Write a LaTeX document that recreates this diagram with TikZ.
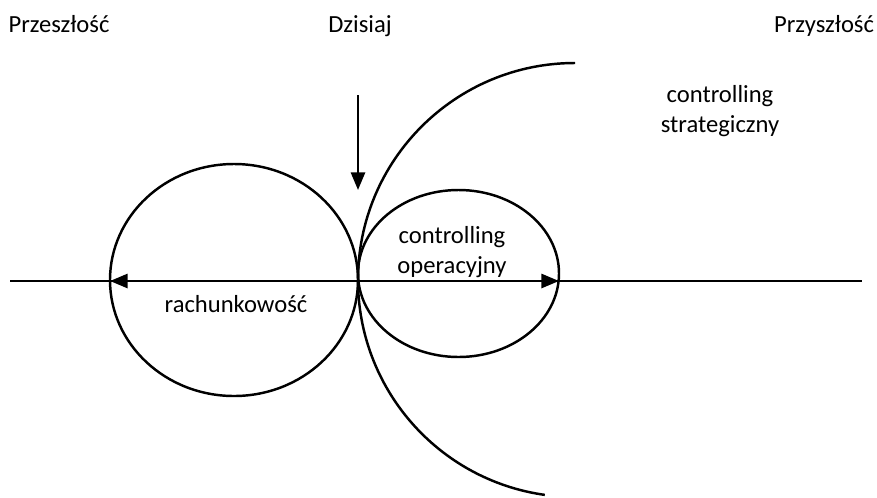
\documentclass[tikz,border=0pt]{standalone}
\usepackage{fontspec}
\setmainfont{Carlito}
\usetikzlibrary{arrows.meta}

\begin{document}
\begin{tikzpicture}[x=0.03cm,y=-0.03cm,line width=2.1pt,
    every node/.style={font=\fontsize{21}{25}\selectfont,inner sep=0pt,align=center},
    tip/.style={-{Triangle[length=15pt,width=12pt]}}]
    \useasboundingbox (0,0) rectangle (877,497);
    % time labels
    \node[anchor=base] (past) at (59,32) {Przeszłość};
    \node[anchor=base] (today) at (360,32) {Dzisiaj};
    \node[anchor=base] (future) at (824,32) {Przyszłość};
    % axis and fixed points
    \coordinate (axisL) at (10,281);
    \coordinate (axisR) at (862,281);
    \coordinate (now) at (358,281);
    \coordinate (accL) at (110,281);
    \coordinate (operR) at (559,281);
    \coordinate (arrtop) at (358,95);
    \coordinate (arrtip) at (358,190);
    \draw (axisL) -- (axisR);
    % the three ranges
    \draw (234,280) ellipse [x radius=124, y radius=116];
    \draw (458.5,273.5) ellipse [x radius=100.5, y radius=83.5];
    \draw (575,63) arc [start angle=-90, end angle=-262, radius=217];
    % arrows
    \draw[tip] (now) -- (accL);
    \draw[tip] (now) -- (operR);
    \draw[tip] (arrtop) -- (arrtip);
    % range labels
    \node (strat) at (720,111) {controlling\\strategiczny};
    \node (oper) at (452,252) {controlling\\operacyjny};
    \node (acc) at (236,304) {rachunkowość};
\end{tikzpicture}
\end{document}
